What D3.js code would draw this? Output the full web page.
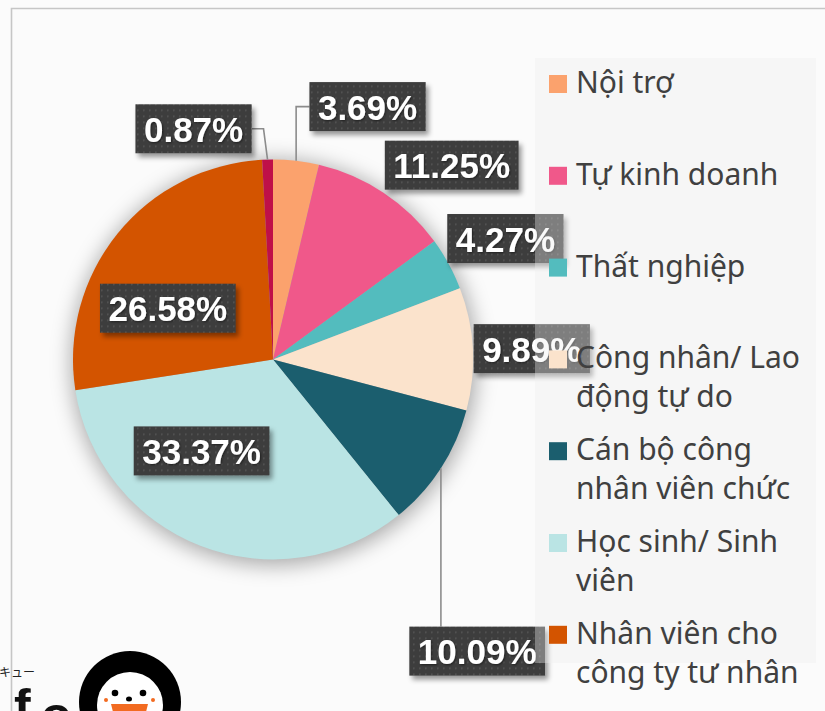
<!DOCTYPE html>
<html><head><meta charset="utf-8">
<script src="https://cdn.jsdelivr.net/npm/d3@7"></script>
<style>
html,body{margin:0;padding:0;background:#fbfbfb;}
svg{display:block;}
</style></head><body>
<svg id="chart" width="825" height="711"></svg>
<script>
// ---- data ----
const categories = ["Nội trợ","Tự kinh doanh","Thất nghiệp","Công nhân/ Lao động tự do","Cán bộ công nhân viên chức","Học sinh/ Sinh viên","Nhân viên cho công ty tư nhân","Khác"];
const values = [3.69, 11.25, 4.27, 9.89, 10.09, 33.37, 26.58, 0.87];
const valueLabels = ["3.69%","11.25%","4.27%","9.89%","10.09%","33.37%","26.58%","0.87%"];
const colors = ["#FBA26D","#F0588A","#53BCBE","#FBE3CC","#1B5E6E","#BAE4E4","#D35400","#BF1048"];

// ---- layout (not data) ----
const cx = 273, cy = 359.5, R = 200;
// label centre: polar [angle deg, radius], leader style
const labelLayout = [
  {a: 20.5, r: 270, leader: "left"},
  {a: 42.6, r: 264, leader: null},
  {a: 62.5, r: 262, leader: null},
  {a: 87.6, r: 259, leader: null},
  {a: 145,  r: 356, leader: "top"},
  {a: 218,  r: 116, leader: null},
  {a: 296,  r: 117, leader: null},
  {a: 341,  r: 244, leader: "right"}
];

const svg = d3.select("#chart");
const defs = svg.append("defs");
const pat = defs.append("pattern").attr("id","dots").attr("width",6).attr("height",6).attr("patternUnits","userSpaceOnUse");
pat.append("rect").attr("width",6).attr("height",6).attr("fill","#3c3c3c");
pat.append("rect").attr("x",2).attr("y",2).attr("width",1.6).attr("height",1.6).attr("fill","#565656");
const pf = defs.append("filter").attr("id","pieShadow").attr("x","-30%").attr("y","-30%").attr("width","160%").attr("height","160%");
pf.append("feGaussianBlur").attr("stdDeviation",10);
const bf = defs.append("filter").attr("id","boxShadow").attr("x","-20%").attr("y","-30%").attr("width","140%").attr("height","170%");
bf.append("feDropShadow").attr("dx",3).attr("dy",4).attr("stdDeviation",2.5).attr("flood-color","#000").attr("flood-opacity",0.4);
const tf = defs.append("filter").attr("id","textShadow").attr("x","-10%").attr("y","-20%").attr("width","120%").attr("height","140%");
tf.append("feDropShadow").attr("dx",1).attr("dy",1).attr("stdDeviation",0.8).attr("flood-color","#000").attr("flood-opacity",0.5);

svg.append("rect").attr("width",825).attr("height",711).attr("fill","#fbfbfb");
// frame
svg.append("path").attr("d","M11.5 711 V8.5 H825").attr("fill","none").attr("stroke","#c6c6c6").attr("stroke-width",1.6);

const g = svg.append("g").attr("transform",`translate(${cx},${cy})`);
g.append("circle").attr("cx",1).attr("cy",3).attr("r",R+3).attr("fill","rgba(0,0,0,0.32)").attr("filter","url(#pieShadow)");

const pie = d3.pie().sort(null).value(d => d);
const arcs = pie(values);
const arc = d3.arc().innerRadius(0).outerRadius(R);
g.selectAll("path.slice").data(arcs).join("path").attr("class","slice")
  .attr("d", arc).attr("fill", (d,i) => colors[i]);

// labels
const fs = 35;
const lg = g.append("g");
arcs.forEach((d,i) => {
  const L = labelLayout[i];
  const [lx, ly] = d3.pointRadial(L.a * Math.PI/180, L.r);
  const t = lg.append("text").attr("font-family","'Liberation Sans', Arial, sans-serif")
    .attr("font-weight","bold").attr("font-size",fs).attr("fill","#fff")
    .attr("filter","url(#textShadow)")
    .attr("text-anchor","middle").attr("x",lx).attr("y",ly + 13).text(valueLabels[i]);
  const tw = t.node().getComputedTextLength();
  const bw = tw + 17, bh = 49;
  const bx = lx - bw/2, by = ly - bh/2;
  if (L.leader) {
    const mid = (d.startAngle + d.endAngle)/2;
    const [sx, sy] = d3.pointRadial(mid, R);
    let pts;
    if (L.leader === "left") pts = [[sx,sy],[sx,ly],[bx,ly]];
    else if (L.leader === "right") pts = [[sx,sy],[sx-4,ly],[bx+bw,ly]];
    else pts = [[sx,sy],[sx,by]];
    lg.insert("path", "text").attr("d", d3.line()(pts)).attr("fill","none")
      .attr("stroke","#8c8c8c").attr("stroke-width",1.6);
  }
  lg.insert("rect","text").attr("x",bx).attr("y",by).attr("width",bw).attr("height",bh)
    .attr("fill","url(#dots)").attr("filter","url(#boxShadow)");
  t.raise();
});

// legend
const legX = 535, legY = 58, legW = 281, legH = 605;
svg.append("rect").attr("x",legX).attr("y",legY).attr("width",legW).attr("height",legH)
  .attr("fill","#eeeeee").attr("fill-opacity",0.37);
const leg = svg.append("g");
const lfs = 30, step = 91.8, base0 = 93, lineH = 39, maxW = 236;
categories.forEach((c,i) => {
  const by = base0 + i*step;
  if (by - 30 > 711) return; // below the visible window
  leg.append("rect").attr("x",549).attr("y",by-18).attr("width",18).attr("height",18).attr("fill",colors[i]);
  const t = leg.append("text").attr("x",576).attr("y",by)
    .attr("font-family","'Noto Sans', 'Open Sans', sans-serif").attr("font-size",lfs).attr("fill","#404040");
  const words = c.split(" ");
  let line = [], lineNo = 0;
  let ts = t.append("tspan").attr("x",576).attr("y",by);
  words.forEach(w => {
    line.push(w);
    ts.text(line.join(" "));
    if (ts.node().getComputedTextLength() > maxW && line.length > 1) {
      line.pop(); ts.text(line.join(" "));
      line = [w]; lineNo++;
      ts = t.append("tspan").attr("x",576).attr("y",by + lineNo*lineH).text(w);
    }
  });
});

// logo (bottom-left watermark)
const logo = svg.append("g");
logo.append("text").attr("x",-1).attr("y",677).attr("font-family","'Noto Sans CJK JP', sans-serif")
  .attr("font-size",12).attr("fill","#222").text("キュー");
logo.append("text").attr("x",14).attr("y",724).attr("font-family","'Liberation Sans', Arial, sans-serif")
  .attr("font-weight","bold").attr("font-size",50).attr("fill","#111").text("f");
logo.append("text").attr("x",41).attr("y",732).attr("font-family","'Liberation Sans', Arial, sans-serif")
  .attr("font-weight","bold").attr("font-size",50).attr("fill","#111").text("o");
logo.append("circle").attr("cx",130).attr("cy",702).attr("r",51).attr("fill","#000");
logo.append("circle").attr("cx",130).attr("cy",705).attr("r",33).attr("fill","#fff");
logo.append("circle").attr("cx",115).attr("cy",693).attr("r",3.3).attr("fill","#000");
logo.append("circle").attr("cx",143).attr("cy",693).attr("r",3.3).attr("fill","#000");
logo.append("ellipse").attr("cx",129).attr("cy",699).attr("rx",3).attr("ry",2.5).attr("fill","#000");
logo.append("circle").attr("cx",106).attr("cy",700).attr("r",2).attr("fill","#F26B21");
logo.append("circle").attr("cx",153).attr("cy",700).attr("r",2).attr("fill","#F26B21");
logo.append("path").attr("d","M111 704 H148 L146 712 H113 Z").attr("fill","#F26B21");
</script>
</body></html>
